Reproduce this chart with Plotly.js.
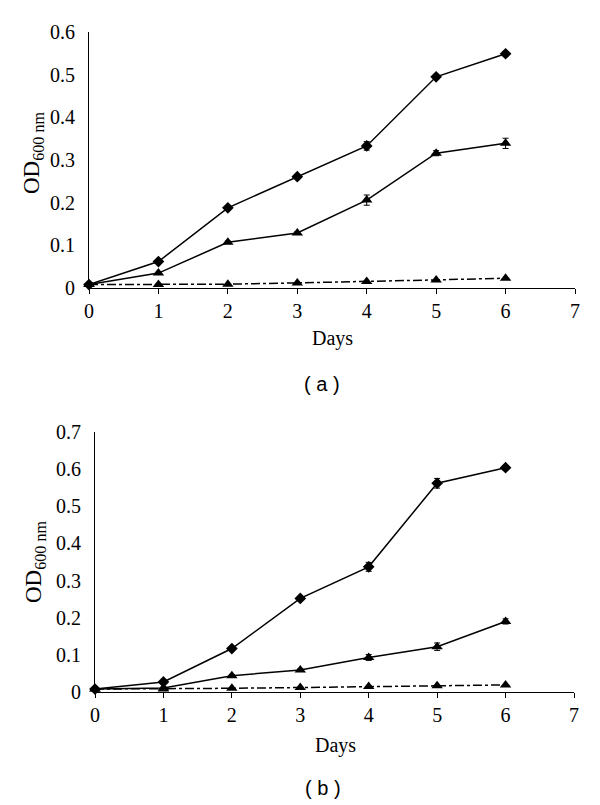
<!DOCTYPE html>
<html>
<head>
<meta charset="utf-8">
<script src="https://cdn.plot.ly/plotly-3.0.1.min.js"></script>
<style>html,body{margin:0;padding:0;background:#fff;}#chart{width:600px;height:805px;}</style>
</head>
<body>
<div id="chart"></div>
<script>
const days = [0, 1, 2, 3, 4, 5, 6];
const xTicks = [0, 1, 2, 3, 4, 5, 6, 7];

// Panel (a)
const aDiamond = [0.008, 0.062, 0.188, 0.261, 0.333, 0.495, 0.549];
const aDiamondErr = [0.002, 0.003, 0.003, 0.003, 0.010, 0.004, 0.005];
const aTriangle = [0.008, 0.035, 0.107, 0.129, 0.206, 0.316, 0.339];
const aTriangleErr = [0.002, 0.002, 0.003, 0.003, 0.012, 0.006, 0.012];
const aControl = [0.008, 0.008, 0.009, 0.012, 0.015, 0.019, 0.023];

// Panel (b)
const bDiamond = [0.008, 0.027, 0.117, 0.252, 0.337, 0.562, 0.604];
const bDiamondErr = [0.002, 0.002, 0.003, 0.003, 0.012, 0.013, 0.006];
const bTriangle = [0.008, 0.011, 0.044, 0.059, 0.093, 0.122, 0.190];
const bTriangleErr = [0.002, 0.002, 0.003, 0.003, 0.008, 0.010, 0.007];
const bControl = [0.008, 0.008, 0.010, 0.012, 0.015, 0.017, 0.019];

const serif = "Liberation Serif, Times New Roman, serif";
const sans = "Liberation Sans, Arial, sans-serif";

function tr(y, err, sym, size, dash, xa, ya) {
  const t = {
    x: days, y: y, xaxis: xa, yaxis: ya, type: 'scatter', mode: 'lines+markers',
    line: {color: '#000', width: 1.5, dash: dash},
    marker: {symbol: sym, size: size, color: '#000'},
    showlegend: false, cliponaxis: false
  };
  if (err) t.error_y = {type: 'data', array: err, visible: true, color: '#000', thickness: 1, width: 3};
  return t;
}

const data = [
  tr(aDiamond, aDiamondErr, 'diamond', 9, 'solid', 'x', 'y'),
  tr(aTriangle, aTriangleErr, 'triangle-up', 10, 'solid', 'x', 'y'),
  tr(aControl, null, 'triangle-up', 10, 'dashdot', 'x', 'y'),
  tr(bDiamond, bDiamondErr, 'diamond', 9, 'solid', 'x2', 'y2'),
  tr(bTriangle, bTriangleErr, 'triangle-up', 10, 'solid', 'x2', 'y2'),
  tr(bControl, null, 'triangle-up', 10, 'dashdot', 'x2', 'y2')
];

const xCommon = {
  range: [0, 7], tickvals: xTicks, ticktext: xTicks.map(String),
  showgrid: false, zeroline: false, showline: true, linecolor: '#000', linewidth: 1,
  ticks: 'outside', ticklen: 5, tickcolor: '#000', tickwidth: 1,
  tickfont: {family: serif, size: 20, color: '#000'}, ticklabelstandoff: 0, fixedrange: true
};
const yCommon = {
  showgrid: false, zeroline: false, showline: true, linecolor: '#000', linewidth: 1,
  ticks: '', dtick: 0.1, tickfont: {family: serif, size: 20, color: '#000'},
  ticklabelstandoff: 9, fixedrange: true
};

const layout = {
  width: 600, height: 805, margin: {l: 0, r: 0, t: 0, b: 0},
  paper_bgcolor: '#fff', plot_bgcolor: '#fff', showlegend: false,
  xaxis: Object.assign({}, xCommon, {domain: [89/600, 575/600], anchor: 'y'}),
  yaxis: Object.assign({}, yCommon, {range: [0, 0.6], domain: [(805-288)/805, (805-32)/805], anchor: 'x'}),
  xaxis2: Object.assign({}, xCommon, {domain: [95/600, 574/600], anchor: 'y2'}),
  yaxis2: Object.assign({}, yCommon, {range: [0, 0.7], domain: [(805-692)/805, (805-432)/805], anchor: 'x2'}),
  annotations: [
    {text: 'Days', xref: 'paper', yref: 'paper', x: 332/600, y: (805-338)/805, showarrow: false,
     font: {family: serif, size: 20, color: '#000'}, xanchor: 'center', yanchor: 'middle'},
    {text: 'Days', xref: 'paper', yref: 'paper', x: 335/600, y: (805-745)/805, showarrow: false,
     font: {family: serif, size: 20, color: '#000'}, xanchor: 'center', yanchor: 'middle'},
    {text: 'OD<sub>600 nm</sub>', xref: 'paper', yref: 'paper', x: 33/600, y: (805-153)/805, showarrow: false,
     textangle: -90, font: {family: serif, size: 23, color: '#000'}, xanchor: 'center', yanchor: 'middle'},
    {text: 'OD<sub>600 nm</sub>', xref: 'paper', yref: 'paper', x: 35/600, y: (805-562)/805, showarrow: false,
     textangle: -90, font: {family: serif, size: 23, color: '#000'}, xanchor: 'center', yanchor: 'middle'},
    {text: '( a )', xref: 'paper', yref: 'paper', x: 322/600, y: (805-384)/805, showarrow: false,
     font: {family: sans, size: 20, color: '#000'}, xanchor: 'center', yanchor: 'middle'},
    {text: '( b )', xref: 'paper', yref: 'paper', x: 323/600, y: (805-788)/805, showarrow: false,
     font: {family: sans, size: 20, color: '#000'}, xanchor: 'center', yanchor: 'middle'}
  ]
};

Plotly.newPlot('chart', data, layout, {displayModeBar: false, staticPlot: true});
</script>
</body>
</html>
